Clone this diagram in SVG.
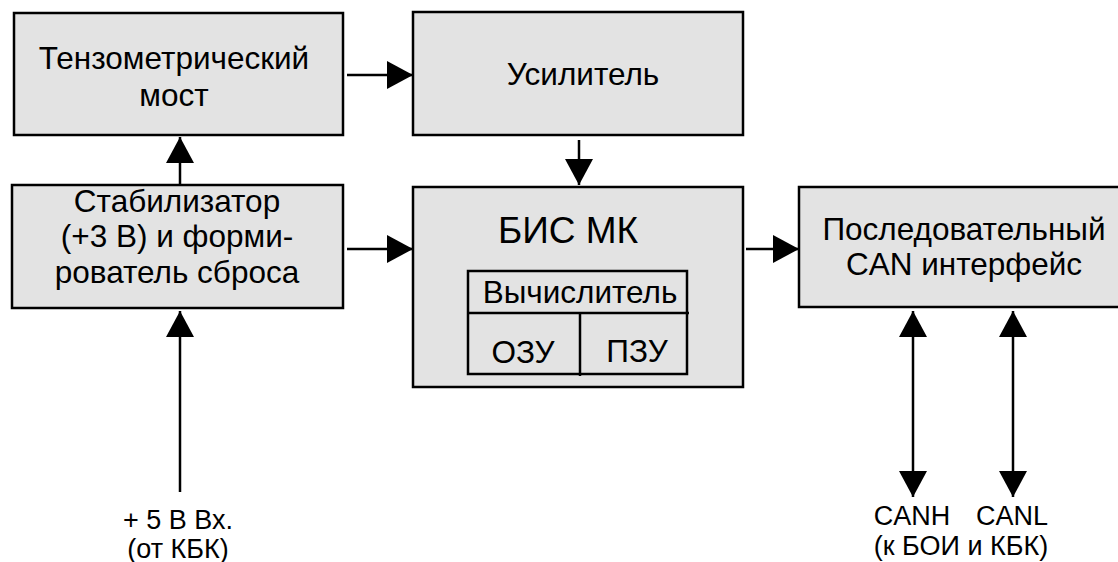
<svg xmlns="http://www.w3.org/2000/svg" width="1118" height="562" viewBox="0 0 1118 562">
<style>
.box{fill:#e3e3e3;stroke:#000;stroke-width:2.5}
.in{fill:none;stroke:#000;stroke-width:2.5}
.ln{stroke:#000;stroke-width:2.5;fill:none}
text{font-family:"Liberation Sans",Arial,sans-serif;font-size:31.5px;fill:#000;text-anchor:middle}
.big{font-size:37px}
.lbl{font-size:27px}
</style>
<defs>
<marker id="ah" viewBox="0 0 26 28" refX="26" refY="14" markerUnits="userSpaceOnUse" markerWidth="26" markerHeight="28" orient="auto-start-reverse">
<path d="M0,0 L26,14 L0,28 Z" fill="#000"/>
</marker>
</defs>
<rect width="1118" height="562" fill="#fff"/>
<g id="connectors">
<line class="ln" x1="347" y1="75" x2="413" y2="75" marker-end="url(#ah)"/>
<line class="ln" x1="579" y1="140" x2="579" y2="185" marker-end="url(#ah)"/>
<line class="ln" x1="180" y1="185" x2="180" y2="137" marker-end="url(#ah)"/>
<line class="ln" x1="180" y1="492" x2="180" y2="311" marker-end="url(#ah)"/>
<line class="ln" x1="347" y1="249" x2="413" y2="249" marker-end="url(#ah)"/>
<line class="ln" x1="746" y1="249" x2="799" y2="249" marker-end="url(#ah)"/>
<line class="ln" x1="913" y1="311" x2="913" y2="497" marker-start="url(#ah)" marker-end="url(#ah)"/>
<line class="ln" x1="1013" y1="311" x2="1013" y2="497" marker-start="url(#ah)" marker-end="url(#ah)"/>
</g>
<g id="tenzo">
<rect class="box" x="14" y="13" width="329" height="122"/>
<text x="174" y="69">Тензометрический</text>
<text x="174" y="106">мост</text>
</g>
<g id="amp">
<rect class="box" x="413" y="12" width="330" height="123"/>
<text x="583" y="85">Усилитель</text>
</g>
<g id="stab">
<rect class="box" x="12" y="185" width="331" height="123"/>
<text x="177" y="212">Стабилизатор</text>
<text x="177" y="247">(+3 В) и форми-</text>
<text x="177" y="283">рователь сброса</text>
</g>
<g id="mcu">
<rect class="box" x="413" y="187" width="330" height="200"/>
<text class="big" x="568" y="243">БИС МК</text>
<rect class="in" x="468" y="271" width="219" height="103"/>
<line class="in" x1="468" y1="313" x2="689" y2="313"/>
<line class="in" x1="580" y1="313" x2="580" y2="376"/>
<text x="580" y="303">Вычислитель</text>
<text x="523" y="363">ОЗУ</text>
<text x="637" y="362">ПЗУ</text>
</g>
<g id="can">
<rect class="box" x="799" y="187" width="340" height="120"/>
<text x="964" y="240">Последовательный</text>
<text x="964" y="275">CAN интерфейс</text>
</g>
<g id="labels">
<text class="lbl" x="178" y="529">+ 5 В Вх.</text>
<text class="lbl" x="178" y="558">(от КБК)</text>
<text class="lbl" x="912" y="525">CANH</text>
<text class="lbl" x="1012" y="525">CANL</text>
<text class="lbl" x="961" y="555">(к БОИ и КБК)</text>
</g>
</svg>
